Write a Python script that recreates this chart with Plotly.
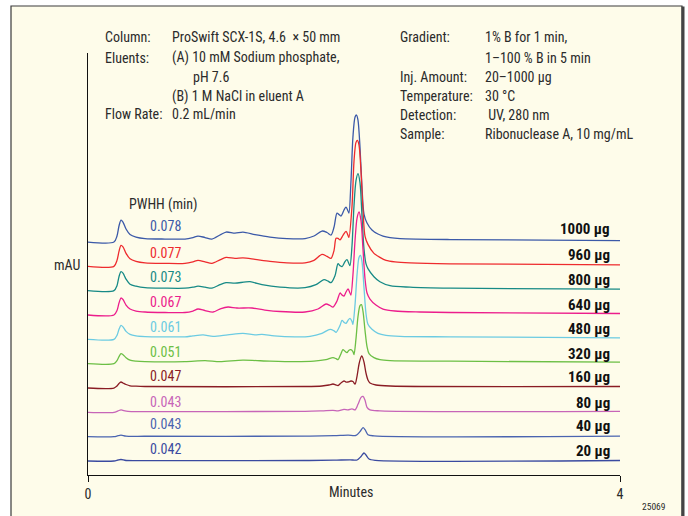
import plotly.graph_objects as go

# Loadings (µg) from bottom trace to top trace
amounts = ["20 µg", "40 µg", "80 µg", "160 µg", "320 µg", "480 µg", "640 µg", "800 µg", "960 µg", "1000 µg"]
pwhh = ["0.042", "0.043", "0.043", "0.047", "0.051", "0.061", "0.067", "0.073", "0.077", "0.078"]
colors = ["#3a4aa0", "#4a64b0", "#c765b8", "#8a1c24", "#6cbf45", "#6ccbe2", "#ec1d8c", "#178a86", "#ee2b2e", "#3b59a8"]

# Retention time (min) and signal (mAU above each trace's own baseline)
t_20 = [0, 0.195, 0.226, 0.248, 0.286, 0.429, 1.632, 1.850, 1.970, 2.023, 2.053, 2.075, 2.090, 2.113, 2.160, 4.0]
s_20 = [0, 0, 1, 1.5, 0.5, 0.4, 0.5, 0.8, 1.2, 1, 4.5, 8, 6, 2, 0.7, 0.5]

t_40 = [0, 0.195, 0.226, 0.248, 0.286, 0.429, 1.632, 1.850, 1.955, 2.015, 2.045, 2.068, 2.083, 2.105, 2.150, 4.0]
s_40 = [0, 0, 1, 1.5, 0.5, 0.4, 0.5, 1, 1.5, 1.2, 5, 9, 7, 2, 0.8, 0.5]

t_80 = [0, 0.195, 0.226, 0.248, 0.263, 0.301, 0.429, 1.632, 1.759, 1.842, 1.880, 1.925, 1.955, 1.985, 2.008,
        2.030, 2.053, 2.068, 2.083, 2.098, 2.120, 2.195, 4.0]
s_80 = [0, 0, 1.5, 2.5, 2, 1, 0.8, 1, 1.5, 2, 1.5, 3, 2.5, 3.5, 2.5,
        8, 15, 16, 12, 5, 2.5, 1.5, 1]

t_160 = [0, 0.195, 0.218, 0.233, 0.248, 0.263, 0.286, 0.316, 0.361, 0.429, 1.632, 1.759, 1.812, 1.842, 1.865,
         1.880, 1.902, 1.925, 1.940, 1.955, 1.977, 1.992, 2.008, 2.023, 2.038, 2.053, 2.060, 2.075, 2.090,
         2.105, 2.120, 2.165, 2.271, 4.0]
s_160 = [0, 0, 2, 4.5, 6, 5, 3.5, 2.2, 1.8, 1.5, 1.5, 2, 3, 4, 3,
         2.5, 5, 7, 6, 6, 7, 6.5, 4, 12, 24, 31, 32, 26, 15,
         8, 5, 3, 2, 1.5]

t_320 = [0, 0.195, 0.218, 0.233, 0.248, 0.263, 0.286, 0.316, 0.361, 0.429, 0.729, 0.880, 0.992, 1.165, 1.368,
         1.556, 1.699, 1.789, 1.842, 1.865, 1.880, 1.902, 1.917, 1.932, 1.947, 1.962, 1.977, 1.992, 2.000,
         2.015, 2.030, 2.045, 2.056, 2.068, 2.083, 2.098, 2.113, 2.150, 2.195, 2.271, 2.722, 4.0]
s_320 = [0, 0, 3, 7, 10, 9, 6, 3.5, 2.5, 2, 2, 3, 2, 3.5, 2.5,
         2, 2.5, 4, 6, 5, 4, 10, 14, 12.5, 11, 13.5, 14, 12, 9,
         25, 47, 58, 59, 52, 33, 17, 10, 6, 4, 3, 2.5, 1.5]

t_480 = [0, 0.195, 0.218, 0.233, 0.248, 0.263, 0.286, 0.316, 0.361, 0.429, 0.579, 0.729, 0.789, 0.865, 0.940,
         1.050, 1.165, 1.256, 1.308, 1.400, 1.556, 1.669, 1.759, 1.820, 1.850, 1.865, 1.895, 1.910, 1.925,
         1.940, 1.955, 1.970, 1.985, 1.992, 2.008, 2.023, 2.038, 2.049, 2.060, 2.075, 2.090, 2.105, 2.135,
         2.180, 2.241, 2.346, 2.722, 4.0]
s_480 = [0, 0, 4, 10, 14, 12.5, 8, 5, 3.5, 2.8, 2.5, 2.5, 3.5, 4.5, 3,
         4.5, 6, 4.5, 5, 3.5, 2.5, 3, 6, 10, 8.5, 7, 14, 19, 17,
         16, 19, 21, 18, 15, 35, 65, 82, 84, 78, 52, 26, 15, 10,
         6, 4, 3, 2.5, 1.5]

t_640 = [0, 0.195, 0.218, 0.233, 0.248, 0.263, 0.286, 0.316, 0.361, 0.429, 0.579, 0.729, 0.789, 0.827, 0.880,
         0.940, 1.000, 1.053, 1.120, 1.233, 1.330, 1.444, 1.632, 1.729, 1.789, 1.820, 1.842, 1.872, 1.895,
         1.910, 1.925, 1.940, 1.955, 1.970, 1.977, 1.992, 2.008, 2.023, 2.038, 2.053, 2.068, 2.083, 2.098,
         2.120, 2.165, 2.218, 2.308, 2.496, 2.722, 4.0]
s_640 = [0, 0, 4.5, 12, 17, 15.5, 10, 6, 4, 3, 2.5, 2.5, 4, 6, 4.5,
         3, 6.5, 8, 7, 7, 5, 3.5, 3, 6, 11, 9.5, 8, 14, 22,
         20, 19, 23, 26, 22, 20, 40, 75, 97, 103, 94, 65, 36, 22,
         16, 10, 6, 4, 3, 2.5, 1.5]

t_800 = [0, 0.195, 0.218, 0.233, 0.248, 0.263, 0.286, 0.316, 0.361, 0.429, 0.579, 0.729, 0.789, 0.827, 0.880,
         0.932, 0.992, 1.038, 1.105, 1.218, 1.308, 1.444, 1.632, 1.714, 1.774, 1.805, 1.827, 1.857, 1.880,
         1.895, 1.910, 1.932, 1.947, 1.962, 1.970, 1.985, 2.000, 2.015, 2.030, 2.045, 2.060, 2.075, 2.090,
         2.105, 2.150, 2.195, 2.271, 2.421, 2.722, 4.0]
s_800 = [0, 0, 5, 14, 19, 17.5, 11.5, 6.5, 4.5, 3, 2.5, 2.5, 3.5, 4.5, 3.5,
         2.5, 6, 8, 7.5, 9, 6, 3.5, 3, 6, 11, 9.5, 8, 15, 27,
         25, 24, 29, 31, 27, 25, 45, 85, 110, 117, 108, 75, 42, 27,
         22, 14, 9, 5, 3.5, 2.5, 1.5]

t_960 = [0, 0.195, 0.218, 0.233, 0.248, 0.263, 0.286, 0.316, 0.361, 0.429, 0.579, 0.729, 0.789, 0.827, 0.880,
         0.932, 0.992, 1.038, 1.105, 1.165, 1.256, 1.368, 1.496, 1.632, 1.699, 1.759, 1.797, 1.827, 1.850,
         1.865, 1.880, 1.895, 1.917, 1.940, 1.955, 1.962, 1.985, 2.000, 2.015, 2.026, 2.038, 2.053, 2.068,
         2.083, 2.105, 2.150, 2.195, 2.241, 2.308, 2.421, 2.722, 4.0]
s_960 = [0, 0, 6, 15, 21, 19.5, 13, 7.5, 5, 3.5, 3, 3, 4.5, 6, 4.5,
         3, 6.5, 9, 8, 8.5, 7, 5, 3.5, 3.5, 6, 12, 10, 8, 16,
         28, 28, 26.5, 31, 35, 31, 29, 60, 105, 124, 126, 121, 94, 55,
         30, 22, 13, 9, 6, 4.5, 3.5, 2.5, 1.5]

t_1000 = [0, 0.195, 0.218, 0.233, 0.248, 0.263, 0.286, 0.316, 0.361, 0.429, 0.579, 0.729, 0.789, 0.827, 0.880,
          0.932, 0.992, 1.038, 1.105, 1.165, 1.256, 1.368, 1.496, 1.632, 1.699, 1.759, 1.797, 1.827, 1.850,
          1.872, 1.887, 1.902, 1.925, 1.940, 1.955, 1.962, 1.977, 1.992, 2.008, 2.019, 2.030, 2.045, 2.060,
          2.075, 2.098, 2.135, 2.180, 2.218, 2.271, 2.346, 2.722, 4.0]
s_1000 = [0, 0, 6, 16, 22, 20, 13, 7.5, 5, 3.5, 3, 3, 4.5, 6, 4.5,
          3, 7, 10, 9, 10, 7.5, 5, 3.5, 3.5, 6, 11, 9.5, 7, 15,
          29, 27.5, 26, 32, 35, 31, 29, 60, 105, 125, 127, 122, 95, 55,
          28, 19, 12, 8, 6, 4.5, 3.5, 2.5, 1.5]

times = [t_20, t_40, t_80, t_160, t_320, t_480, t_640, t_800, t_960, t_1000]
signals = [s_20, s_40, s_80, s_160, s_320, s_480, s_640, s_800, s_960, s_1000]

# Layout geometry (pixels)
W, H = 688, 516
PL, PR, PT, PB = 88, 620, 53, 475
Y_MAX = PB - PT
BASE0, STEP = 14.0, 24.33


def paper(x, y):
    return (x - PL) / (PR - PL), (PB - y) / (PB - PT)


FONT = "Roboto Condensed, Liberation Sans Narrow, DejaVu Sans Condensed, sans-serif"
TXT = "#2b2b2b"

fig = go.Figure()
for i in range(len(amounts) - 1, -1, -1):
    off = BASE0 + i * STEP
    fig.add_trace(go.Scatter(
        x=times[i], y=[off + v for v in signals[i]], mode="lines",
        line=dict(color=colors[i], width=1.3, shape="spline", smoothing=0.8),
        hoverinfo="skip", showlegend=False))

annotations = []


def text(x, y, s, size=14, color=TXT, xanchor="left", bold=False):
    xp, yp = paper(x, y)
    if bold:
        s = "<b>" + s + "</b>"
    annotations.append(dict(x=xp, y=yp, xref="paper", yref="paper", text=s, showarrow=False,
                            xanchor=xanchor, yanchor="middle",
                            font=dict(family=FONT, size=size, color=color)))


# Method conditions
left_labels = [("Column:", 37), ("Eluents:", 58), ("Flow Rate:", 114)]
left_values = [("ProSwift SCX-1S, 4.6  × 50 mm", 170, 37), ("(A) 10 mM Sodium phosphate,", 170, 58),
               ("pH 7.6", 191, 77), ("(B) 1 M NaCl in eluent A", 170, 96), ("0.2 mL/min", 170, 114)]
right_labels = [("Gradient:", 37), ("Inj. Amount:", 77), ("Temperature:", 96), ("Detection:", 115), ("Sample:", 134)]
right_values = [("1% B for 1 min,", 37), ("1–100 % B in 5 min", 58), ("20–1000 µg", 77), ("30 °C", 96),
                (" UV, 280 nm", 115), ("Ribonuclease A, 10 mg/mL", 134)]
for s, y in left_labels:
    text(103, y, s)
for s, x, y in left_values:
    text(x, y, s)
for s, y in right_labels:
    text(398, y, s)
for s, y in right_values:
    text(483, y, s)

# Peak width labels and loadings
text(127, 204, "PWHH (min)")
pwhh_y = [449, 424, 402, 376, 352, 327, 302, 277, 253, 226]
amt_y = [451, 426, 403, 377, 354, 329, 305, 280, 255, 229]
for i in range(len(amounts)):
    text(148, pwhh_y[i], pwhh[i], color=colors[i])
    text(612, amt_y[i], amounts[i], size=15, color="#111", xanchor="right", bold=True)

text(52, 265, "mAU")
text(351, 492, "Minutes", xanchor="center")
text(654, 506, "25069", size=9.5, xanchor="center")

# Panel frame
fx0, fy0 = paper(11, 6)
fx1, fy1 = paper(682, 530)
shapes = [
    dict(type="rect", xref="paper", yref="paper", x0=fx0, y0=fy1, x1=fx1, y1=fy0,
         fillcolor="#fefcea", line=dict(color="#3a3a3a", width=1.2), layer="below"),
    dict(type="line", xref="paper", yref="paper", x0=paper(683, 0)[0], x1=paper(683, 0)[0],
         y0=fy0 - 0.001, y1=fy1, line=dict(color="#444", width=3), layer="below"),
]

fig.update_layout(
    width=W, height=H,
    margin=dict(l=PL, r=W - PR, t=PT, b=H - PB, pad=0),
    paper_bgcolor="white", plot_bgcolor="rgba(0,0,0,0)",
    annotations=annotations, shapes=shapes,
    xaxis=dict(range=[0, 4], showgrid=False, zeroline=False, showline=True, linecolor="#111", linewidth=1.4,
               ticks="outside", tickvals=[0, 4], ticktext=["0", "4"], ticklen=6, tickwidth=1.4, tickcolor="#111",
               tickfont=dict(family=FONT, size=14, color=TXT)),
    yaxis=dict(range=[0, Y_MAX], showgrid=False, zeroline=False, showline=True, linecolor="#111",
               linewidth=1.4, showticklabels=False, ticks=""),
)

fig.write_html("out.html")
